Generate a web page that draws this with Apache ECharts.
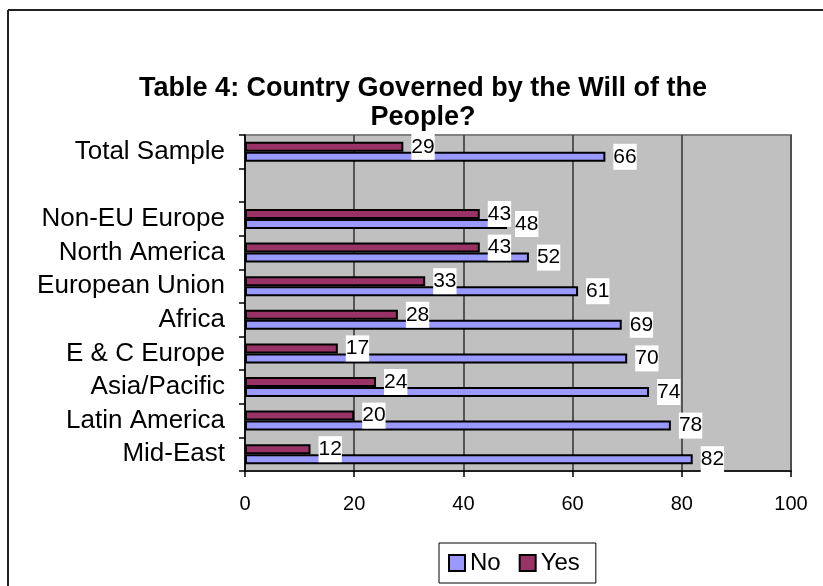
<!DOCTYPE html>
<html>
<head>
<meta charset="utf-8">
<script src="https://cdn.jsdelivr.net/npm/echarts@6/dist/echarts.min.js"></script>
<style>
html,body{margin:0;padding:0;background:#fff;}
#c{width:823px;height:586px;}
</style>
</head>
<body>
<div id="c"></div>
<script>
const categories = ['Total Sample', '', 'Non-EU Europe', 'North America', 'European Union', 'Africa', 'E & C Europe', 'Asia/Pacific', 'Latin America', 'Mid-East'];
const yesValues = [29, null, 43, 43, 33, 28, 17, 24, 20, 12];
const noValues = [66, null, 48, 52, 61, 69, 70, 74, 78, 82];
const xTicks = [0, 20, 40, 60, 80, 100];
const titleText = 'Table 4: Country Governed by the Will of the\nPeople?';

const FONT = '"Liberation Sans", Arial, sans-serif';
const chart = echarts.init(document.getElementById('c'), null, {renderer: 'canvas'});

const labelCfg = {
  show: true,
  position: 'right',
  distance: 8,
  color: '#000',
  fontSize: 21,
  fontFamily: FONT,
  backgroundColor: '#fff',
  padding: [3, 0, 2, 0]
};

chart.setOption({
  animation: false,
  backgroundColor: '#fff',
  title: {
    text: titleText,
    left: 418,
    top: 69,
    textAlign: 'center',
    textStyle: {
      fontFamily: FONT,
      fontWeight: 'bold',
      fontSize: 27,
      lineHeight: 29,
      color: '#000'
    }
  },
  legend: {
    data: ['No', 'Yes'],
    left: 439,
    top: 543,
    orient: 'horizontal',
    padding: [8, 16, 8, 9],
    itemGap: 18,
    itemWidth: 16,
    itemHeight: 16,
    itemTextGap: 6,
    borderColor: '#000',
    borderWidth: 1,
    backgroundColor: '#fff',
    textStyle: {fontFamily: FONT, fontSize: 24, color: '#000'},
    icon: 'rect',
    itemStyle: {borderColor: '#000', borderWidth: 2}
  },
  grid: {
    left: 245,
    top: 135,
    width: 546,
    height: 336,
    show: true,
    backgroundColor: '#C0C0C0',
    borderColor: '#808080',
    borderWidth: 2
  },
  xAxis: {
    type: 'value',
    min: xTicks[0],
    max: xTicks[xTicks.length - 1],
    interval: 20,
    axisLine: {show: true, lineStyle: {color: '#000', width: 1.5}},
    axisTick: {show: true, length: 6, lineStyle: {color: '#000', width: 1.5}},
    axisLabel: {
      margin: 23,
      fontFamily: FONT,
      fontSize: 20,
      color: '#000'
    },
    splitLine: {show: true, lineStyle: {color: '#4a4a4a', width: 1.8}}
  },
  yAxis: {
    type: 'category',
    data: categories,
    inverse: true,
    axisLine: {show: true, lineStyle: {color: '#000', width: 1.5}},
    axisTick: {show: true, length: 6, interval: 0, lineStyle: {color: '#000', width: 1.5}},
    axisLabel: {
      interval: 0,
      margin: 20,
      fontFamily: FONT,
      fontSize: 26,
      color: '#000'
    },
    splitLine: {show: false}
  },
  series: [
    {
      name: 'Yes',
      type: 'bar',
      data: yesValues,
      barWidth: 10,
      barGap: '0%',
      itemStyle: {color: '#993366', borderColor: '#000', borderWidth: 2},
      label: labelCfg,
      z: 3
    },
    {
      name: 'No',
      type: 'bar',
      data: noValues,
      barWidth: 10,
      barGap: '0%',
      itemStyle: {color: '#9999FF', borderColor: '#000', borderWidth: 2},
      label: labelCfg,
      z: 2
    }
  ],
  graphic: [
    {type: 'line', shape: {x1: 8, y1: 10, x2: 823, y2: 10}, style: {stroke: '#222', lineWidth: 2}, silent: true},
    {type: 'line', shape: {x1: 8, y1: 10, x2: 8, y2: 586}, style: {stroke: '#222', lineWidth: 2}, silent: true}
  ]
});
</script>
</body>
</html>
